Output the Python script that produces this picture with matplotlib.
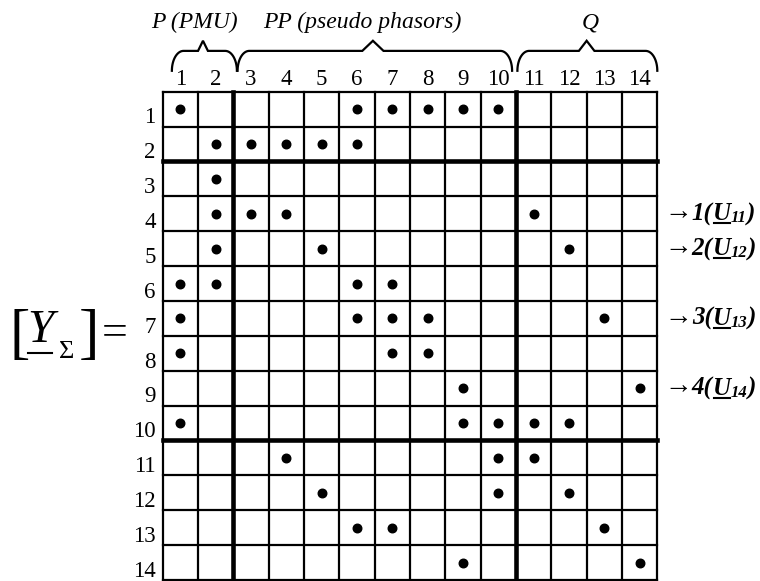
import matplotlib
matplotlib.use('Agg')
import matplotlib.pyplot as plt
import numpy as np
from matplotlib.lines import Line2D
from matplotlib.transforms import IdentityTransform

SERIF = ['Liberation Serif', 'DejaVu Serif']

# dots of the structure matrix, row by row (column numbers 1..14)
n = 14
filled = [
    [1, 6, 7, 8, 9, 10],
    [2, 3, 4, 5, 6],
    [2],
    [2, 3, 4, 11],
    [2, 5, 12],
    [1, 2, 6, 7],
    [1, 6, 7, 8, 13],
    [1, 7, 8],
    [9, 14],
    [1, 9, 10, 11, 12],
    [4, 10, 11],
    [5, 10, 12],
    [6, 7, 13],
    [9, 14],
]
thick_after = [2, 10]

groups = ['P (PMU)', 'PP (pseudo phasors)', 'Q']
group_cols = [(1, 2), (3, 10), (11, 14)]
group_label_x = [0.9, 5.65, 12.1]
group_tip_x = [1.14, 5.95, 12.0]

marked_rows = [4, 5, 7, 9]
node_ids = ['1', '2', '3', '4']
u_subs = ['11', '12', '13', '14']

W, H = 760, 581
fig = plt.figure(figsize=(W / 100, H / 100), dpi=100)
fig.patch.set_facecolor('white')
# grid box in pixels: x 162.7..657.3, y 91.7..580
ax = fig.add_axes([162.7 / W, 1.0 / H, 494.6 / W, 488.3 / H])
ax.set_xlim(0, n)
ax.set_ylim(n, 0)
ax.axis('off')

thin, thick = 1.6, 3.3
for k in range(n + 1):
    lw = thick if k in thick_after else thin
    ax.plot([k, k], [0, n], color='k', lw=lw, clip_on=False, solid_capstyle='projecting')
    ax.plot([0, n], [k, k], color='k', lw=lw, clip_on=False, solid_capstyle='projecting')

xs, ys = [], []
for r, cols in enumerate(filled, start=1):
    for c in cols:
        xs.append(c - 0.5)
        ys.append(r - 0.5)
ax.scatter(xs, ys, s=38, color='k', clip_on=False, zorder=3)

for r in range(1, n + 1):
    ax.text(-0.2, r - 0.09, str(r), ha='right', va='baseline',
            fontsize=16.5, family=SERIF, clip_on=False)
for c in range(1, n + 1):
    ax.text(c - 0.5, -0.19, str(c), ha='center', va='baseline',
            fontsize=16.5, family=SERIF, clip_on=False)


def brace(x0, x1, xt, w, y_end=-0.6, y_h=-1.17, y_tip=-1.46, rx=0.33):
    t = np.linspace(0, np.pi / 2, 20)
    lx = x0 + rx - rx * np.cos(t)
    ly = y_end - (y_end - y_h) * np.sin(t)
    rxs = x1 - rx + rx * np.cos(t[::-1])
    rys = y_end - (y_end - y_h) * np.sin(t[::-1])
    px = np.concatenate([lx, [xt - w, xt, xt + w], rxs])
    py = np.concatenate([ly, [y_h, y_tip, y_h], rys])
    ax.plot(px, py, color='k', lw=1.6, clip_on=False, solid_joinstyle='miter')


brace_x = [(0.26, 2.1), (2.12, 9.89), (10.04, 14.0)]
tip_w = [0.14, 0.3, 0.22]
for (x0, x1), xt, w, lab, lx in zip(brace_x, group_tip_x, tip_w, groups, group_label_x):
    brace(x0, x1, xt, w)
    ax.text(lx, -1.82, lab, ha='center', va='baseline', fontsize=17,
            style='italic', family=SERIF, clip_on=False)

fig.canvas.draw()
rend = fig.canvas.get_renderer()


def put(x, y, s, size, style='normal', weight='normal', ul=None):
    # x, y in pixels from the top-left, y is the baseline
    t = fig.text(x, H - y, s, transform=IdentityTransform(),
                 fontsize=size, style=style, weight=weight, family=SERIF,
                 ha='left', va='baseline')
    bb = t.get_window_extent(rend)
    if ul is not None:
        fig.add_artist(Line2D([bb.x0 + 1, bb.x1 - 1], [H - (y + ul), H - (y + ul)],
                              transform=IdentityTransform(), color='k', lw=1.5))
    return bb


# left-hand side: [Y_Sigma] =
put(9, 352, '[', 44)
put(27, 342, 'Y', 34, style='italic', ul=11)
put(59, 358, '\u03a3', 19)
put(79, 352, ']', 44)
put(102, 345, '=', 33)


def chain(x, y, pieces):
    px = x
    for s, size, style, weight, dy, ul, gap in pieces:
        bb = put(px, y + dy, s, size, style, weight, ul)
        px = bb.x1 + gap


# node markers on the right
for r, nid, sub in zip(marked_rows, node_ids, u_subs):
    yb = H - ax.transData.transform((0, r - 0.31))[1]
    chain(664, yb, [
        ('\u2192', 20, 'normal', 'normal', -1, None, 0),
        (nid + '(', 18, 'italic', 'bold', 0, None, 0),
        ('U', 18, 'italic', 'bold', 0, 3, 0),
        (sub, 12, 'italic', 'bold', 2, None, 0),
        (')', 18, 'italic', 'bold', 0, None, 0),
    ])

fig.savefig('out.png', dpi=100, facecolor='white')
